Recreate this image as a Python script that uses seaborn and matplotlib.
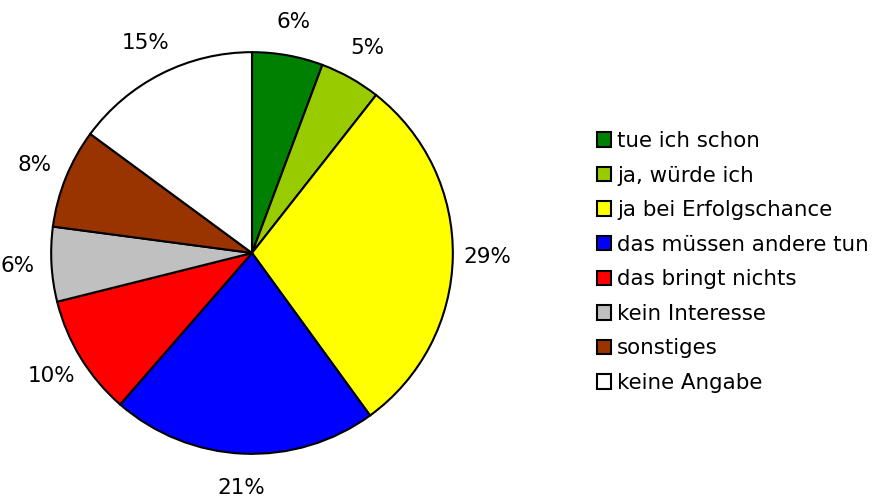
import matplotlib
matplotlib.use("Agg")
import matplotlib.pyplot as plt
import seaborn as sns

categories = [
    "tue ich schon",
    "ja, würde ich",
    "ja bei Erfolgschance",
    "das müssen andere tun",
    "das bringt nichts",
    "kein Interesse",
    "sonstiges",
    "keine Angabe",
]
shares = [5.7, 4.9, 29.4, 21.4, 9.7, 6.0, 8.0, 14.9]
colors = ["#008000", "#99CC00", "#FFFF00", "#0000FF",
          "#FF0000", "#C0C0C0", "#993300", "#FFFFFF"]

sns.set_style("white")
plt.rcParams["font.family"] = ["DejaVu Sans"]

fig = plt.figure(figsize=(8.76, 4.98), dpi=100)
ax = fig.add_axes([11 / 876, 4 / 498, 482 / 876, 482 / 498])

wedges, texts, autotexts = ax.pie(
    shares,
    colors=colors,
    startangle=90,
    counterclock=False,
    autopct="%.0f%%",
    pctdistance=1.17,
    wedgeprops={"edgecolor": "black", "linewidth": 1.5},
    textprops={"fontsize": 15.5, "color": "black"},
)
ax.set_xlim(-1.2, 1.2)
ax.set_ylim(-1.2, 1.2)
ax.set_aspect("equal")
ax.axis("off")

leg = fig.legend(
    wedges,
    categories,
    loc="center left",
    bbox_to_anchor=(597 / 876, 1 - 262 / 498),
    frameon=False,
    fontsize=15.4,
    handlelength=0.66,
    handleheight=0.66,
    handletextpad=0.28,
    labelspacing=0.68,
    borderpad=0,
    borderaxespad=0,
)
for t in leg.get_texts():
    t.set_color("black")

fig.savefig("out.png", dpi=100)
